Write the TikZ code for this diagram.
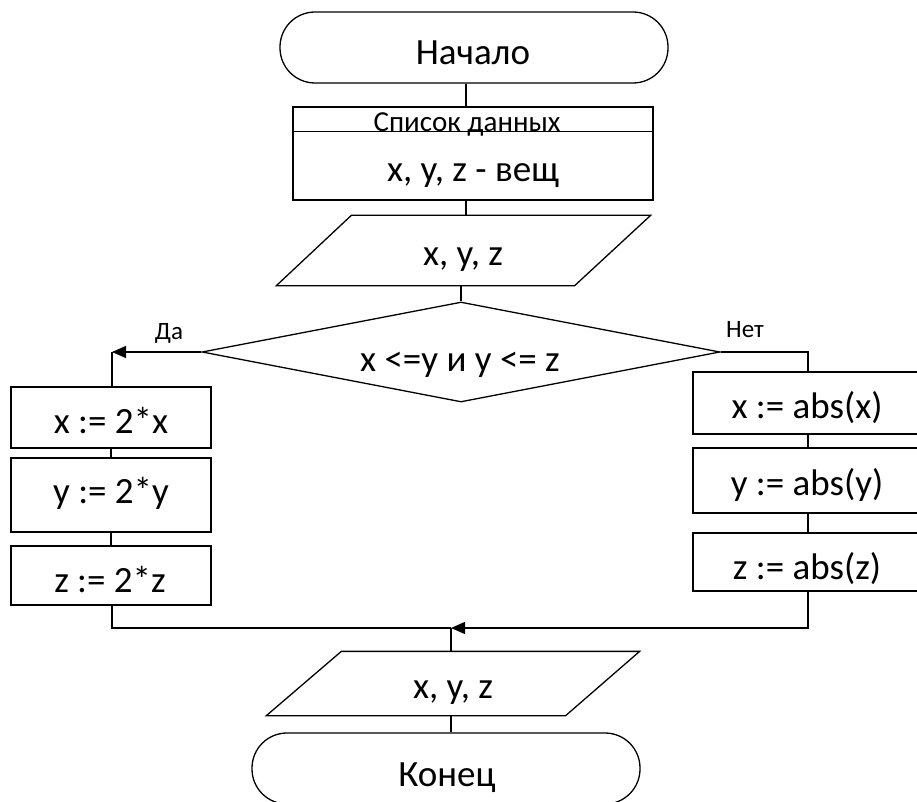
\documentclass[tikz,border=0pt]{standalone}
\usepackage{fontspec}
\setmainfont{Carlito}
\usetikzlibrary{shapes.geometric,arrows.meta}
\begin{document}
\begin{tikzpicture}[x=1pt,y=-1pt,line width=1.3pt,
  term/.style={draw, rounded corners=35pt, minimum width=388pt, minimum height=71pt, inner sep=0pt},
  pbox/.style={draw, inner sep=0pt},
  big/.style={font=\fontsize{37}{44}\selectfont, anchor=base, inner sep=0pt},
  small/.style={font=\fontsize{29}{34}\selectfont, anchor=base, inner sep=0pt},
  lbl/.style={font=\fontsize{25}{30}\selectfont, anchor=base, inner sep=0pt},
  arr/.style={-{Triangle[length=14pt,width=12pt]}}
]
\clip (0,0) rectangle (917,802);
% start
\node[term] (start) at (474,47.5) {};
\node[big] (starttxt) at (473,65) {Начало};
% data list
\node[pbox, minimum width=360pt, minimum height=93pt] (list) at (473,153.5) {};
\draw ([yshift=-25pt]list.north west) -- ([yshift=-25pt]list.north east);
\node[small] (listhead) at (467,132) {Список данных};
\node[big] (listbody) at (473,182) {x, y, z - вещ};
% input
\node[inner sep=0pt, minimum width=373pt, minimum height=69pt] (p1) at (463.5,250.5) {};
\draw ([xshift=75pt]p1.north west) -- (p1.north east) -- ([xshift=-76pt]p1.south east) -- (p1.south west) -- cycle;
\node[big] (p1txt) at (463,265) {x, y, z};
% decision
\node[diamond, draw, inner sep=0pt, aspect=5.18, minimum width=518pt, minimum height=100pt] (dec) at (461,352) {};
\node[big] (dectxt) at (460,371) {x <=y и y <= z};
\node[lbl] (yes) at (169,339) {Да};
\node[lbl] (no) at (745,337) {Нет};
% left boxes
\node[pbox, minimum width=200pt, minimum height=61pt] (b1) at (111,417.5) {};
\node[pbox, minimum width=200pt, minimum height=74pt] (b2) at (111,495) {};
\node[pbox, minimum width=200pt, minimum height=59pt] (b3) at (111,575.5) {};
\node[big] (b1t) at (111,433) {x := 2*x};
\node[big] (b2t) at (111,503) {y := 2*y};
\node[big] (b3t) at (110,592) {z := 2*z};
% right boxes
\node[pbox, minimum width=228pt, minimum height=62pt] (r1) at (807,403) {};
\node[pbox, minimum width=228pt, minimum height=65pt] (r2) at (807,480.5) {};
\node[pbox, minimum width=228pt, minimum height=58pt] (r3) at (807,562) {};
\node[big] (r1t) at (807,418) {x := abs(x)};
\node[big] (r2t) at (807,495) {y := abs(y)};
\node[big] (r3t) at (807,579) {z := abs(z)};
% output
\node[inner sep=0pt, minimum width=372pt, minimum height=63pt] (p2) at (453,683.5) {};
\draw ([xshift=75pt]p2.north west) -- (p2.north east) -- ([xshift=-74pt]p2.south east) -- (p2.south west) -- cycle;
\node[big] (p2txt) at (453,698) {x, y, z};
% end
\node[term] (stop) at (446,768.5) {};
\node[big] (stoptxt) at (447,786) {Конец};
% connectors
\coordinate (ct) at (466,0);
\coordinate (cl) at (112,352);
\coordinate (cr) at (808,352);
\coordinate (m) at (451,628);
\draw (start.south -| ct) -- (list.north -| ct);
\draw (list.south -| ct) -- (p1.north -| ct);
\draw (p1.south -| dec.north) -- (dec.north);
\draw[arr] (dec.west) -- (cl);
\draw (cl) -- (cl |- b1.north);
\draw (b1.south) -- (b2.north);
\draw (b2.south) -- (b3.north);
\draw (dec.east) -- (cr) -- (cr |- r1.north);
\draw (r1.south -| cr) -- (r2.north -| cr);
\draw (r2.south -| cr) -- (r3.north -| cr);
\draw[arr] (r3.south -| cr) |- (m);
\draw (b3.south -| cl) |- (m);
\draw (m) -- (m |- p2.north);
\draw (p2.south -| m) -- (m |- stop.north);
\end{tikzpicture}
\end{document}
